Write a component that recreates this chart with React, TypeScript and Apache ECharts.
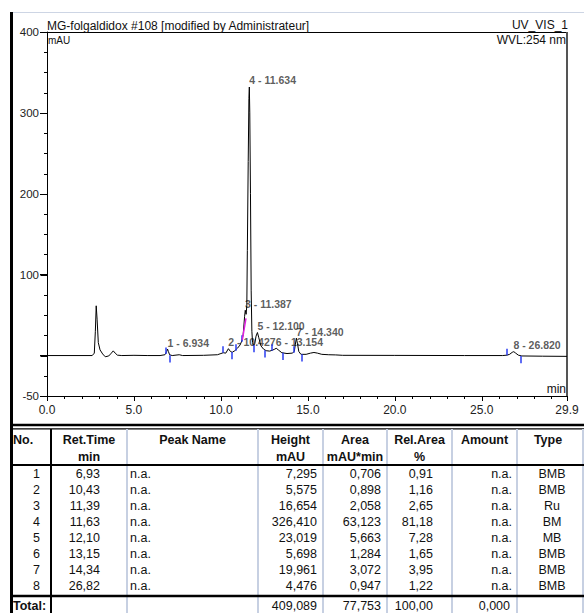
import React, { useEffect, useRef } from "react";
import * as echarts from "echarts";

// ---- chromatogram trace (time [min], signal [mAU]) ----
const traceTime = [
  0, 2.6, 2.72, 2.78, 2.83, 2.88, 2.95, 3.05, 3.2, 3.35, 3.55, 3.7, 3.81, 3.92, 4.05, 4.3, 5.0, 5.8, 6.5,
  6.78, 6.88, 6.93, 6.98, 7.05, 7.2, 7.6, 7.8, 9.0, 9.8, 10.0, 10.13, 10.28, 10.43, 10.55, 10.65, 10.8,
  10.95, 11.1, 11.2, 11.28, 11.36, 11.4, 11.45, 11.49, 11.52, 11.57, 11.61, 11.634, 11.66, 11.7, 11.74,
  11.78, 11.82, 11.87, 11.95, 12.02, 12.1, 12.18, 12.3, 12.45, 12.6, 12.8, 12.95, 13.1, 13.18, 13.3, 13.5,
  13.8, 14.1, 14.22, 14.28, 14.34, 14.4, 14.48, 14.6, 14.9, 15.15, 15.35, 15.55, 15.8, 16.2, 16.6, 17.0,
  20.0, 24.0, 26.2, 26.45, 26.6, 26.75, 26.84, 26.95, 27.1, 27.3, 28.5, 29.9,
];
const traceSignal = [
  0, 0, 3, 30, 61.5, 45, 16, 7, 2, -1.5, -0.5, 3, 5.8, 3, 0.5, 0, 0.3, 0, 0,
  1, 5, 8, 5, 1, 0, 1, 0, 0.3, 1, 2.5, 3.5, 3, 8.5, 5, 4, 6,
  9, 13, 18, 26, 48, 56, 51, 62, 130, 240, 318, 332, 300, 200, 80,
  30, 16, 12, 15, 24, 28.5, 22, 12, 8, 6, 5.5, 6.5, 8, 9, 7, 3.5,
  2.5, 3, 5, 14, 21.5, 15, 5, 1.5, 1.5, 3, 3.8, 3, 1.5, 1, 0.8, 0.3,
  0.2, 0, 0, 0.5, 1.5, 4, 4.8, 3, 0.5, -0.5, -0.8, -1,
];

// ---- peak labels ----
const peakNos = [1, 2, 3, 4, 5, 6, 7, 8];
const peakRT = [6.934, 10.427, 11.387, 11.634, 12.1, 13.154, 14.34, 26.82];
const peakRTText = ["6.934", "10.427", "11.387", "11.634", "12.100", "13.154", "14.340", "26.820"];
const peakApex = [8, 8.5, 56, 332, 28.5, 9, 21.5, 4.8];

// ---- integration markers ----
const startMarkTime = [6.85, 10.12, 10.84, 11.2, 12.9, 14.2, 26.42];
const startMarkLevel = [2, 3.5, 6, 17, 6, 3.5, 0.3];
const endMarkTime = [7.07, 10.6, 11.86, 12.53, 13.55, 14.62, 27.25];
const endMarkLevel = [0.5, 4.5, 13, 6.5, 3.5, 1.5, -0.5];
const riderBaseTime = [11.23, 11.44];
const riderBaseLevel = [19.5, 46];

// ---- axes ----
const xMajorTicks = [0, 5, 10, 15, 20, 25, 29.9];
const xMinorTicks = [
  1, 2, 3, 4, 6, 7, 8, 9, 11, 12, 13, 14, 16, 17, 18, 19, 21, 22, 23, 24, 26, 27, 28, 29,
];
const yMajorTicks = [-50, 0, 100, 200, 300, 400];
const yTickLabels = [-50, 100, 200, 300, 400];
const yMinorTicks = [-25, 25, 50, 75, 125, 150, 175, 225, 250, 275, 325, 350, 375];

// ---- table ----
const tableNos = ["1", "2", "3", "4", "5", "6", "7", "8"];
const retTimes = ["6,93", "10,43", "11,39", "11,63", "12,10", "13,15", "14,34", "26,82"];
const peakNames = ["n.a.", "n.a.", "n.a.", "n.a.", "n.a.", "n.a.", "n.a.", "n.a."];
const heights = ["7,295", "5,575", "16,654", "326,410", "23,019", "5,698", "19,961", "4,476"];
const areas = ["0,706", "0,898", "2,058", "63,123", "5,663", "1,284", "3,072", "0,947"];
const relAreas = ["0,91", "1,16", "2,65", "81,18", "7,28", "1,65", "3,95", "1,22"];
const amounts = ["n.a.", "n.a.", "n.a.", "n.a.", "n.a.", "n.a.", "n.a.", "n.a."];
const types = ["BMB", "BMB", "Ru", "BM", "MB", "BMB", "BMB", "BMB"];
const totalHeight = "409,089";
const totalArea = "77,753";
const totalRelArea = "100,00";
const totalAmount = "0,000";
const headers = ["No.", "Ret.Time", "Peak Name", "Height", "Area", "Rel.Area", "Amount", "Type"];
const units = ["", "min", "", "mAU", "mAU*min", "%", "", ""];

const FONT = '"Liberation Sans", Arial, sans-serif';
const X_MIN = 0;
const Y_MIN = -50;

export default function App() {
  const ref = useRef<HTMLDivElement>(null);

  useEffect(() => {
    if (!ref.current) return;
    const chart = echarts.init(ref.current, undefined, { renderer: "svg" });

    const trace = traceTime.map((t, i) => [t, traceSignal[i]]);
    const labels = peakRT.map((t, i) => ({
      value: [t, peakApex[i]],
      label: { formatter: `${peakNos[i]} - ${peakRTText[i]}` },
    }));

    const markData: any[] = [];
    startMarkTime.forEach((t, i) => {
      markData.push([{ coord: [t, startMarkLevel[i]] }, { coord: [t, startMarkLevel[i] + 8] }]);
    });
    endMarkTime.forEach((t, i) => {
      markData.push([{ coord: [t, endMarkLevel[i]] }, { coord: [t, endMarkLevel[i] - 9] }]);
    });
    markData.push([
      { coord: [riderBaseTime[0], riderBaseLevel[0]], lineStyle: { color: "#e020e0", width: 1.5 } },
      { coord: [riderBaseTime[1], riderBaseLevel[1]] },
    ]);

    const g: any[] = [];
    const txt = (text: string, x: number, y: number, align: string, bold = false, size = 12.5) =>
      g.push({
        type: "text",
        silent: true,
        style: {
          text,
          x,
          y,
          align,
          verticalAlign: "middle",
          fill: "#111",
          fontFamily: FONT,
          fontSize: size,
          fontWeight: bold ? "bold" : "normal",
        },
      });
    const line = (x1: number, y1: number, x2: number, y2: number, stroke: string, w: number) =>
      g.push({ type: "line", silent: true, shape: { x1, y1, x2, y2 }, style: { stroke, lineWidth: w } });

    // frame of chart
    line(10, 12.5, 584, 12.5, "#cdd5e4", 1);
    line(47, 32.5, 567, 32.5, "#000", 1);
    line(567, 32, 567, 396, "#555", 2);
    line(11.5, 12, 11.5, 613, "#000", 3);

    // headings
    txt("MG-folgaldidox #108 [modified by Administrateur]", 47, 26, "left", false, 12);
    txt("UV_VIS_1", 568, 25, "right", false, 12);
    txt("mAU", 48, 40, "left", false, 10);
    txt("WVL:254 nm", 566, 40, "right", false, 12);
    txt("min", 566, 389, "right", false, 12);

    // table lines
    line(10, 425, 584, 425, "#000", 2.5);
    line(10, 428.8, 584, 428.8, "#000", 1.3);
    const lightCols = [127, 258, 323, 387, 452, 517, 583];
    lightCols.forEach((x) => line(x, 429, x, 613, "#c7d0e2", 2));
    line(51, 429, 51, 613, "#000", 2);
    line(10, 465, 584, 465, "#000", 2);
    line(10, 596, 584, 596, "#000", 2.5);

    const colCenters = [24, 89, 192.5, 290.5, 355, 419.5, 484.5, 548];
    headers.forEach((h, i) => {
      if (i === 0) txt(h, 13, 440, "left", true, 12.5);
      else txt(h, colCenters[i], 440, "center", true, 12.5);
    });
    units.forEach((u, i) => {
      if (u) txt(u, colCenters[i], 457, "center", true, 12.5);
    });
    const rowY = (i: number) => 473.5 + i * 16.1;
    tableNos.forEach((n, i) => {
      const y = rowY(i);
      txt(n, 40, y, "right");
      txt(retTimes[i], 100, y, "right");
      txt(peakNames[i], 130, y, "left");
      txt(heights[i], 317, y, "right");
      txt(areas[i], 381, y, "right");
      txt(relAreas[i], 433, y, "right");
      txt(amounts[i], 512, y, "right");
      txt(types[i], 552, y, "center");
    });
    txt("Total:", 13, 606, "left", true, 12.5);
    txt(totalHeight, 317, 606, "right");
    txt(totalArea, 381, 606, "right");
    txt(totalRelArea, 433, 606, "right");
    txt(totalAmount, 510, 606, "right");

    const tickSeries = (data: number[][], vertical: boolean, len: number) => ({
      type: "custom",
      coordinateSystem: "cartesian2d",
      xAxisIndex: 0,
      yAxisIndex: 0,
      silent: true,
      clip: false,
      data,
      renderItem: (_p: any, api: any) => {
        const pt = api.coord([api.value(0), api.value(1)]);
        const x = Math.round(pt[0]) + 0.5;
        const y = Math.round(pt[1]) + 0.5;
        return {
          type: "line",
          shape: vertical ? { x1: x, y1: y, x2: x, y2: y + len } : { x1: x - len, y1: y, x2: x, y2: y },
          style: { stroke: "#000", lineWidth: 1 },
        };
      },
    });

    chart.setOption({
      animation: false,
      backgroundColor: "#fff",
      textStyle: { fontFamily: FONT },
      grid: { left: 47, top: 32, width: 520, height: 364, containLabel: false, outerBoundsMode: "none" },
      xAxis: {
        type: "value",
        min: X_MIN,
        max: 29.9,
        position: "bottom",
        splitLine: { show: false },
        axisLine: { show: true, onZero: false, lineStyle: { color: "#000", width: 1 } },
        axisTick: { show: true, length: 4.5, customValues: xMajorTicks, lineStyle: { color: "#000" } },
        axisLabel: {
          show: true,
          customValues: xMajorTicks,
          formatter: (v: number) => v.toFixed(1),
          fontSize: 12,
          color: "#222",
          margin: 8,
          fontFamily: FONT,
        },
      },
      yAxis: {
        type: "value",
        min: Y_MIN,
        max: 400,
        position: "left",
        splitLine: { show: false },
        axisLine: { show: true, onZero: false, lineStyle: { color: "#000", width: 1 } },
        axisTick: { show: true, length: 7, customValues: yMajorTicks, lineStyle: { color: "#000" } },
        axisLabel: {
          show: true,
          customValues: yTickLabels,
          fontSize: 11.5,
          color: "#222",
          margin: 8,
          fontFamily: FONT,
        },
      },
      series: [
        {
          type: "line",
          data: trace,
          showSymbol: false,
          symbol: "none",
          lineStyle: { color: "#000", width: 1 },
          silent: true,
          markLine: {
            silent: true,
            symbol: ["none", "none"],
            label: { show: false },
            lineStyle: { color: "#2a3cf0", width: 1.5, type: "solid" },
            emphasis: { disabled: true },
            data: markData,
          },
        },
        tickSeries(yMinorTicks.map((v) => [X_MIN, v]), false, 3.5),
        tickSeries(yMajorTicks.map((v) => [X_MIN, v]), false, 7),
        tickSeries(xMinorTicks.map((t) => [t, Y_MIN]), true, 2.5),
        tickSeries(xMajorTicks.map((t) => [t, Y_MIN]), true, 4.5),
        {
          type: "scatter",
          data: labels,
          symbol: "circle",
          symbolSize: 0.1,
          itemStyle: { color: "transparent" },
          silent: true,
          label: {
            show: true,
            position: [0, -1],
            align: "left",
            verticalAlign: "bottom",
            fontSize: 10.5,
            fontWeight: "bold",
            color: "#333",
            fontFamily: FONT,
          },
        },
      ],
      graphic: g,
    });

    return () => chart.dispose();
  }, []);

  return (
    <div
      ref={ref}
      style={{ position: "fixed", left: 0, top: 0, width: 584, height: 613, background: "#fff" }}
    />
  );
}
